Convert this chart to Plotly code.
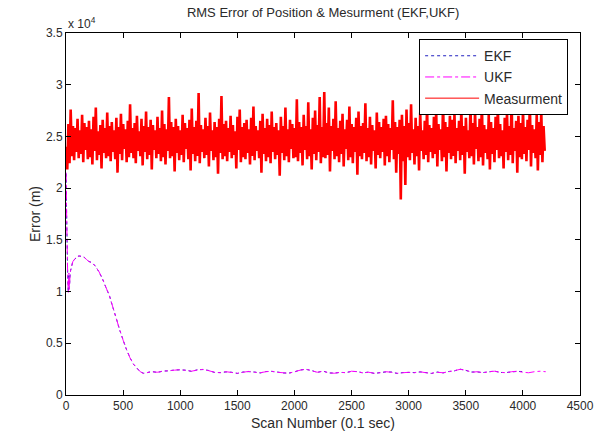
import numpy as np
import plotly.graph_objects as go

# ---------------- data ----------------
# Measurement error (m), one value every 10 scans starting at scan 1
meas_y = [
    24000, 21800, 26200, 22400, 27600, 23100, 26000, 22700, 25800, 23500, 26700, 22900, 25600, 23300, 27100, 22500, 26300, 23700, 25900, 22800,
    26500, 23000, 25700, 22300, 26900, 23600, 27800, 22700, 25500, 23200, 26100, 21900, 26600, 23400, 25800, 22900, 27300, 23100, 26000, 22600,
    26400, 23500, 25600, 22800, 26800, 21500, 25900, 23300, 27200, 22700, 26200, 23800, 25700, 22500, 26500, 23000, 28100, 23400, 25800, 22900,
    26300, 22400, 27000, 23600, 25500, 23100, 26700, 22200, 26000, 23500, 27400, 22800, 25900, 23200, 26600, 21800, 26100, 23700, 25600, 22900,
    26900, 23300, 25800, 22600, 27500, 23000, 26200, 22300, 25700, 23600, 28800, 22900, 26400, 23100, 25900, 21600, 26700, 23400, 26000, 22700,
    25600, 23200, 27100, 22500, 26300, 23800, 25800, 22800, 26600, 21700, 27700, 23300, 25900, 22600, 26500, 23100, 29200, 22400, 26100, 23500,
    25700, 22900, 26800, 23200, 26000, 22100, 27300, 23600, 25600, 22700, 26400, 23000, 25900, 21400, 26700, 23400, 28900, 22800, 26200, 23100,
    26500, 22600, 25800, 23500, 27000, 22900, 26100, 23200, 25500, 21900, 26900, 23700, 27600, 22500, 25900, 23000, 26300, 22800, 26600, 23400,
    25700, 22300, 26800, 23100, 27900, 22700, 26000, 23600, 25600, 22900, 26500, 21500, 27200, 23300, 25800, 22600, 26700, 23000, 26100, 22400,
    27400, 23500, 25900, 22800, 26300, 23200, 25600, 21200, 26900, 23400, 26000, 22700, 27800, 23100, 25700, 22500, 26600, 23800, 26200, 22900,
    25800, 23000, 28600, 22600, 26400, 23400, 25900, 22200, 27100, 23700, 26000, 22800, 28300, 23100, 25700, 21800, 26800, 23300, 27500, 22700,
    26100, 23500, 28800, 22400, 25900, 23000, 29300, 22900, 26300, 23200, 27800, 21600, 26000, 23600, 26700, 22800, 28400, 23100, 25800, 22500,
    26500, 23300, 27200, 22100, 25700, 23800, 26600, 22700, 27900, 23000, 26200, 22400, 25900, 23500, 26800, 21300, 27400, 23100, 26000, 22800,
    26300, 23400, 28200, 22600, 25800, 23000, 26900, 22300, 26100, 23600, 25600, 21900, 27300, 23200, 26400, 22900, 25900, 23500, 26700, 22200,
    27000, 23100, 26200, 22500, 25800, 23700, 28500, 22800, 26400, 21500, 25900, 23300, 26600, 18900, 27100, 22600, 26000, 20300, 27600, 23000,
    26300, 22700, 28100, 23400, 25700, 22300, 26800, 23100, 26000, 21700, 27300, 23600, 25600, 22800, 26500, 23200, 27900, 22500, 26100, 23500,
    25800, 22900, 26900, 23300, 27500, 22100, 26200, 23700, 25700, 22600, 28300, 23000, 26400, 21600, 25900, 23400, 27000, 22800, 26600, 23100,
    27200, 22400, 25800, 23600, 26500, 22700, 27700, 23200, 26000, 21400, 26800, 23500, 25600, 22900, 28000, 23100, 26300, 22300, 27400, 23800,
    25900, 22600, 26700, 23000, 28400, 22200, 26100, 23400, 25700, 22800, 27100, 21800, 26400, 23300, 25800, 22500, 26900, 23700, 27800, 22900,
    26200, 23100, 25600, 21900, 26800, 23500, 27300, 22700, 26000, 23200, 28600, 22400, 25800, 23600, 26500, 21500, 27000, 23000, 26300, 22800,
    27600, 23300, 25900, 22600, 26600, 23700, 28200, 22100, 26100, 23400, 25700, 22900, 27100, 21700, 26400, 23200, 27400, 22500, 26000, 23600,
]
meas_x = list(range(1, 1 + 10 * len(meas_y), 10))

filt_x = [1, 5, 10, 15, 20, 25, 30, 35, 40, 50, 60, 80, 100, 120, 140, 160, 180, 200,
          230, 260, 290, 320, 350, 380, 410, 440, 470, 500, 530, 560, 590, 620, 650, 680, 700,
          750, 800, 850, 900, 950, 1000, 1050, 1100, 1150, 1200, 1250, 1300, 1350, 1400, 1450,
          1500, 1550, 1600, 1650, 1700, 1750, 1800, 1850, 1900, 1950, 2000, 2050, 2100, 2150,
          2200, 2250, 2300, 2350, 2400, 2450, 2500, 2550, 2600, 2650, 2700, 2750, 2800, 2850,
          2900, 2950, 3000, 3050, 3100, 3150, 3200, 3250, 3300, 3350, 3400, 3450, 3500, 3550,
          3600, 3650, 3700, 3750, 3800, 3850, 3900, 3950, 4000, 4050, 4100, 4150, 4200]

ukf_y = [21500, 18000, 14500, 11500, 9900, 11800, 10200, 11600, 12000, 12500, 12900, 13200, 13400, 13450, 13400, 13300, 13100, 12900,
         12800, 12400, 11900, 11200, 10400, 9600, 8500, 7400, 6300, 5300, 4400, 3600, 3000, 2600, 2250, 2080, 2150,
         2250, 2200, 2300, 2350, 2400, 2450, 2380, 2300, 2420, 2480, 2350, 2200, 2150, 2250, 2180,
         2100, 2200, 2280, 2200, 2150, 2250, 2300, 2200, 2150, 2100, 2250, 2400, 2500, 2350,
         2200, 2300, 2150, 2100, 2200, 2150, 2300, 2250, 2150, 2200, 2100, 2150, 2250, 2200,
         2100, 2150, 2200, 2150, 2250, 2150, 2100, 2200, 2150, 2250, 2350, 2480, 2400, 2200,
         2250, 2150, 2250, 2300, 2200, 2150, 2250, 2300, 2200, 2150, 2250, 2300, 2250]

ekf_y = [21400, 17900, 14600, 11400, 9950, 11700, 10300, 11500, 12050, 12450, 12950, 13150, 13420, 13430, 13380, 13320, 13080, 12920,
         12780, 12420, 11880, 11220, 10380, 9620, 8480, 7420, 6280, 5320, 4380, 3620, 2980, 2620, 2230, 2100, 2130,
         2270, 2180, 2320, 2330, 2420, 2430, 2400, 2280, 2440, 2460, 2370, 2180, 2170, 2230, 2200,
         2080, 2220, 2260, 2220, 2130, 2270, 2280, 2220, 2130, 2120, 2230, 2420, 2480, 2370,
         2180, 2320, 2130, 2120, 2180, 2170, 2280, 2270, 2130, 2220, 2080, 2170, 2230, 2220,
         2080, 2170, 2180, 2170, 2230, 2170, 2080, 2220, 2130, 2270, 2330, 2500, 2380, 2220,
         2230, 2170, 2230, 2320, 2180, 2170, 2230, 2280, 2270]

y_tickvals = [0, 5000, 10000, 15000, 20000, 25000, 30000, 35000]
y_ticktext = ["0", "0.5", "1", "1.5", "2", "2.5", "3", "3.5"]
x_tickvals = [0, 500, 1000, 1500, 2000, 2500, 3000, 3500, 4000, 4500]

# ---------------- figure ----------------
FONT = "Liberation Sans, Arial, sans-serif"
TXT = "#2a2a2a"

fig = go.Figure()
fig.add_trace(go.Scatter(x=filt_x, y=ekf_y, mode="lines", name="EKF",
                         line=dict(color="#2020c0", width=1, dash="dot", simplify=False)))
fig.add_trace(go.Scatter(x=filt_x, y=ukf_y, mode="lines", name="UKF",
                         line=dict(color="#ff00ff", width=1, dash="dashdot", simplify=False)))
# measurement drawn thick enough that the dense noise band fills in
fig.add_trace(go.Scatter(x=meas_x, y=meas_y, mode="lines", name="Measurment",
                         showlegend=False, legendgroup="meas",
                         line=dict(color="#ff0000", width=2.6, simplify=False)))
# legend entry for the measurement with a thin line sample
fig.add_trace(go.Scatter(x=[None], y=[None], mode="lines", name="Measurment",
                         legendgroup="meas",
                         line=dict(color="#ff0000", width=1)))

axis_common = dict(showline=True, linecolor="black", linewidth=1, mirror="ticks",
                   ticks="inside", ticklen=5, tickcolor="black", showgrid=False,
                   zeroline=False, automargin=False,
                   tickfont=dict(family=FONT, size=12, color=TXT))

fig.update_xaxes(range=[0, 4500], tickvals=x_tickvals,
                 title=dict(text="Scan Number (0.1 sec)", standoff=5,
                            font=dict(family=FONT, size=14, color=TXT)),
                 **axis_common)
fig.update_yaxes(range=[0, 35000], tickvals=y_tickvals, ticktext=y_ticktext,
                 title=dict(text="Error (m)", standoff=2,
                            font=dict(family=FONT, size=14, color=TXT)),
                 **axis_common)

fig.update_layout(
    width=605, height=436,
    margin=dict(l=66, r=25, t=33, b=41),
    paper_bgcolor="white", plot_bgcolor="white",
    title=dict(text="RMS Error of Position & Mesurment (EKF,UKF)",
               x=0.534, xanchor="center", y=0.972, yanchor="middle",
               font=dict(family=FONT, size=13, color=TXT)),
    showlegend=True,
    legend=dict(x=0.687, y=0.983, xanchor="left", yanchor="top",
                bgcolor="white", bordercolor="black", borderwidth=1,
                font=dict(family=FONT, size=14, color=TXT),
                itemwidth=54, tracegroupgap=0, traceorder="normal"),
    annotations=[dict(text="x 10<sup>4</sup>", xref="paper", yref="paper",
                      x=0.0, y=1.0, xanchor="left", yanchor="bottom",
                      showarrow=False, font=dict(family=FONT, size=12, color=TXT))],
)

fig.write_html("out.html")
